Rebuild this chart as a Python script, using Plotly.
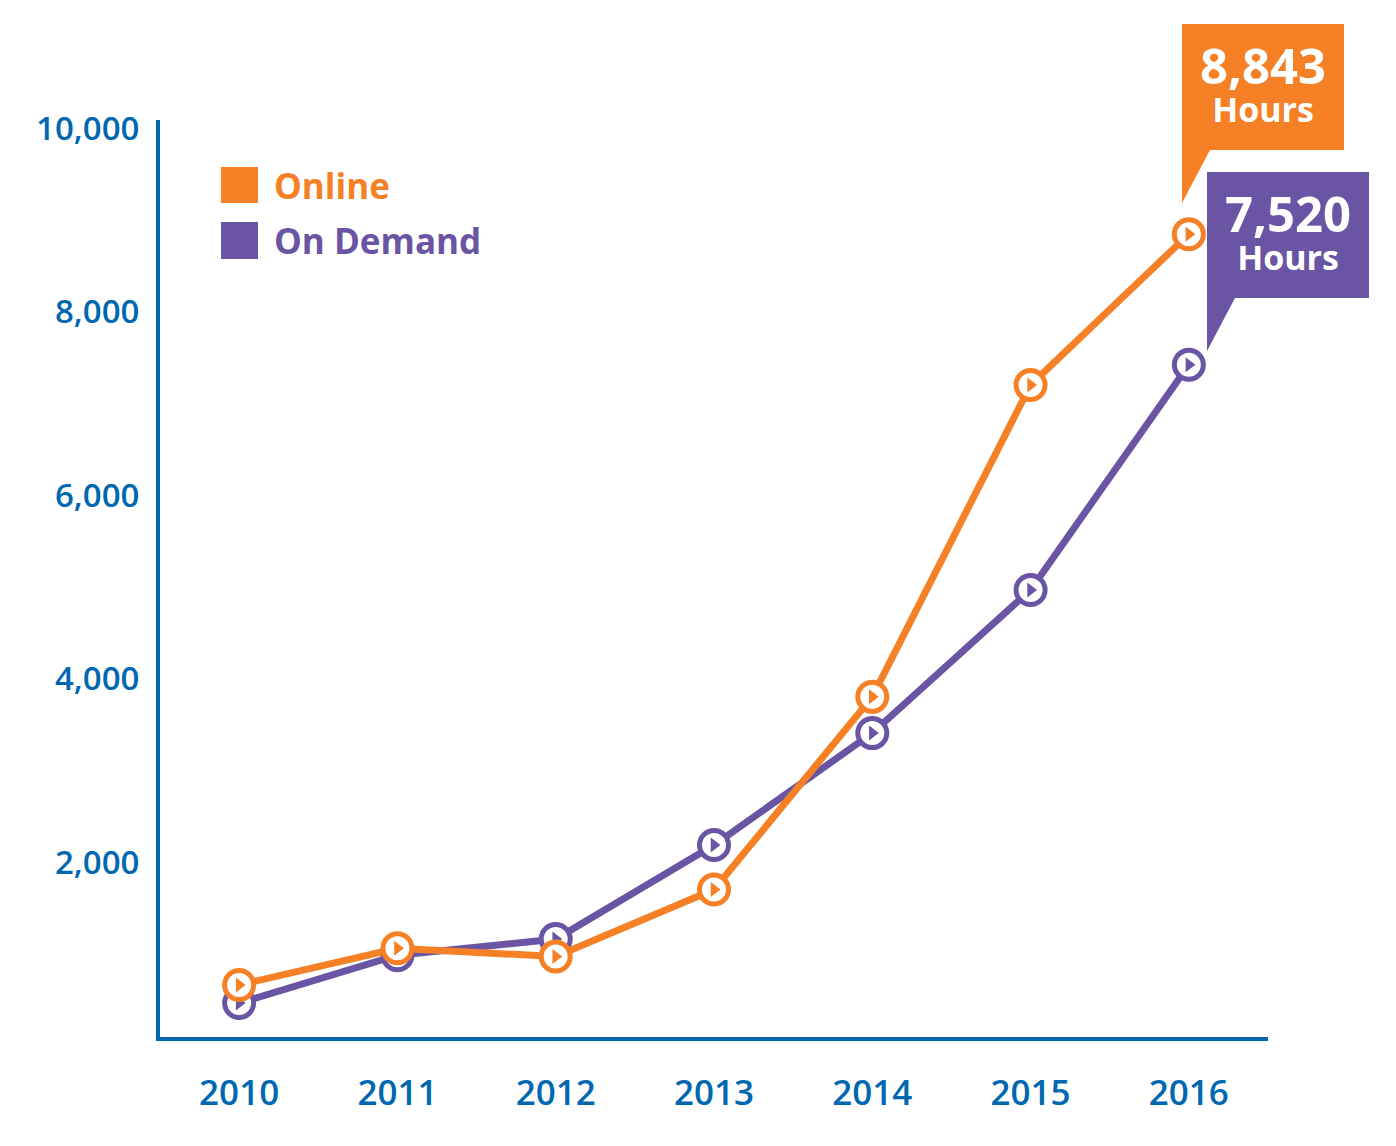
import plotly.graph_objects as go

years = [2010, 2011, 2012, 2013, 2014, 2015, 2016]
online = [660, 1060, 970, 1700, 3800, 7200, 8843]
on_demand = [463, 985, 1160, 2185, 3405, 4965, 7420]
y_ticks = [2000, 4000, 6000, 8000, 10000]
y_tick_text = ["2,000", "4,000", "6,000", "8,000", "10,000"]
series_names = ["Online", "On Demand"]
callout_online = ["8,843", "Hours"]
callout_demand = ["7,520", "Hours"]

ORANGE = "#F58025"
PURPLE = "#6955A3"
BLUE = "#0067B1"
FONT = "Open Sans"

W, H = 1396, 1146
OFF = 8  # page body margin
# plot area in picture pixels: x 160..1268, y 120..1037
ML, MT = 160 - OFF, 120 - OFF
MR, MB = W - 1268 + OFF, H - 1037 + OFF
PW, PH = W - ML - MR, H - MT - MB


def px(x):
    return (x - 160) / PW


def py(y):
    return (1037 - y) / PH


def path(points):
    return "M " + " L ".join(f"{px(x):.5f},{py(y):.5f}" for x, y in points) + " Z"


fig = go.Figure()

for vals, color, name in [(on_demand, PURPLE, series_names[1]), (online, ORANGE, series_names[0])]:
    fig.add_trace(go.Scatter(
        x=years, y=vals, mode="lines+markers", name=name,
        line=dict(color=color, width=7),
        marker=dict(symbol="circle", size=29, color="white", line=dict(color=color, width=5)),
        showlegend=False, cliponaxis=False,
    ))
    fig.add_trace(go.Scatter(
        x=years, y=vals, mode="markers",
        marker=dict(symbol="triangle-right", size=13, color=color),
        showlegend=False, cliponaxis=False,
    ))

shapes = [
    dict(type="path", xref="paper", yref="paper", fillcolor=ORANGE, line=dict(width=0),
         path=path([(1182, 24), (1344, 24), (1344, 150), (1210, 150), (1182, 203)])),
    dict(type="path", xref="paper", yref="paper", fillcolor=PURPLE, line=dict(width=0),
         path=path([(1207, 172), (1369, 172), (1369, 298), (1235, 298), (1207, 351)])),
    dict(type="rect", xref="paper", yref="paper", fillcolor=ORANGE, line=dict(width=0),
         x0=px(221), x1=px(258), y0=py(203), y1=py(167)),
    dict(type="rect", xref="paper", yref="paper", fillcolor=PURPLE, line=dict(width=0),
         x0=px(221), x1=px(258), y0=py(259), y1=py(222)),
]

annotations = [
    dict(text=(f"<span style='font-size:49px'><b>{callout_online[0]}</b></span><br>"
               f"<span style='font-size:34px'><b>{callout_online[1]}</b></span>"),
         x=px(1263), y=py(82), font=dict(size=29, color="white")),
    dict(text=(f"<span style='font-size:49px'><b>{callout_demand[0]}</b></span><br>"
               f"<span style='font-size:34px'><b>{callout_demand[1]}</b></span>"),
         x=px(1288), y=py(230), font=dict(size=29, color="white")),
    dict(text=f"<b>{series_names[0]}</b>", x=px(272), y=py(186), xanchor="left",
         font=dict(size=35, color=ORANGE)),
    dict(text=f"<b>{series_names[1]}</b>", x=px(272), y=py(241), xanchor="left",
         font=dict(size=35, color=PURPLE)),
]
for a in annotations:
    a.update(xref="paper", yref="paper", showarrow=False)
    a.setdefault("xanchor", "center")
    a["yanchor"] = "middle"
    a["font"]["family"] = FONT

fig.update_layout(
    width=W, height=H,
    margin=dict(l=ML, r=MR, t=MT, b=MB, pad=0),
    paper_bgcolor="white", plot_bgcolor="white",
    font=dict(family=FONT, color=BLUE),
    shapes=shapes, annotations=annotations,
    xaxis=dict(
        range=[2009.5, 2016.5], tickvals=years, ticktext=[str(y) for y in years],
        showgrid=False, zeroline=False, showline=True, linecolor=BLUE, linewidth=4,
        ticks="", ticklabelstandoff=22,
        tickfont=dict(family=FONT, size=35, color=BLUE, weight=600),
    ),
    yaxis=dict(
        range=[93, 10087], tickvals=y_ticks, ticktext=y_tick_text,
        showgrid=False, zeroline=False, showline=True, linecolor=BLUE, linewidth=4,
        ticks="", ticklabelstandoff=10,
        tickfont=dict(family=FONT, size=33, color=BLUE, weight=600),
    ),
)

fig.write_html("out.html")
